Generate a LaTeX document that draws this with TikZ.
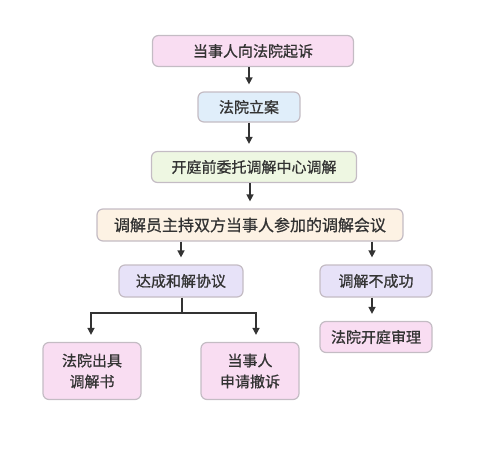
\documentclass[tikz,border=0pt]{standalone}
\usepackage{fontspec}
\setmainfont{Noto Sans CJK SC}[AutoFakeBold=0.8]
\usetikzlibrary{arrows.meta}
\definecolor{cpink}{HTML}{F9DDF2}
\definecolor{cblue}{HTML}{E0EEFA}
\definecolor{cgreen}{HTML}{EEF7E2}
\definecolor{cpeach}{HTML}{FDF2E4}
\definecolor{clav}{HTML}{E7E2F8}
\definecolor{cbord}{HTML}{C4BCC4}
\definecolor{carrow}{HTML}{333333}
\tikzset{
  box/.style={draw=cbord, line width=1.2pt, rounded corners=6pt, inner sep=0pt,
    align=center, font=\fontsize{15}{21}\selectfont\bfseries, text=black!80},
  arr/.style={draw=carrow, line width=1.4pt, -{Triangle[length=7pt,width=7pt]}, shorten >=7pt},
  ln/.style={draw=carrow, line width=1.4pt}
}
\begin{document}
\begin{tikzpicture}[x=1pt,y=-1pt]
\useasboundingbox (0,0) rectangle (496,450);
\node[box, fill=cpink, minimum width=201pt, minimum height=31pt] (a) at (253,51) {当事人向法院起诉};
\node[box, fill=cblue, minimum width=102pt, minimum height=30pt] (b) at (249,107) {法院立案};
\node[box, fill=cgreen, minimum width=205pt, minimum height=31pt] (c) at (254,167) {开庭前委托调解中心调解};
\node[box, fill=cpeach, minimum width=306pt, minimum height=32pt, font=\fontsize{16}{21}\selectfont\bfseries] (d) at (250,225) {调解员主持双方当事人参加的调解会议};
\node[box, fill=clav, minimum width=124pt, minimum height=32pt] (e) at (181,281) {达成和解协议};
\node[box, fill=clav, minimum width=112pt, minimum height=32pt] (f) at (376,281) {调解不成功};
\node[box, fill=cpink, minimum width=112pt, minimum height=31pt] (g) at (376,337) {法院开庭审理};
\node[box, fill=cpink, minimum width=98pt, minimum height=57pt] (h) at (92,371) {法院出具\\调解书};
\node[box, fill=cpink, minimum width=98pt, minimum height=57pt] (i) at (250,371) {当事人\\申请撤诉};
\coordinate (br) at (182,313);
\draw[arr] (a.south -| b.north) -- (b.north);
\draw[arr] (b.south) -- (b.south |- c.north);
\draw[arr] (c.south -| d.north) -- (d.north);
\draw[arr] (d.south -| e.north) -- (e.north);
\draw[arr] (d.south -| 372,0) -- (f.north -| 372,0);
\draw[arr] (f.south -| 372,0) -- (g.north -| 372,0);
\draw[ln] (e.south -| br) -- (br);
\draw[arr] (br) -| (h.north -| 91,0);
\draw[arr] (br) -| (i.north -| 256,0);
\end{tikzpicture}
\end{document}
